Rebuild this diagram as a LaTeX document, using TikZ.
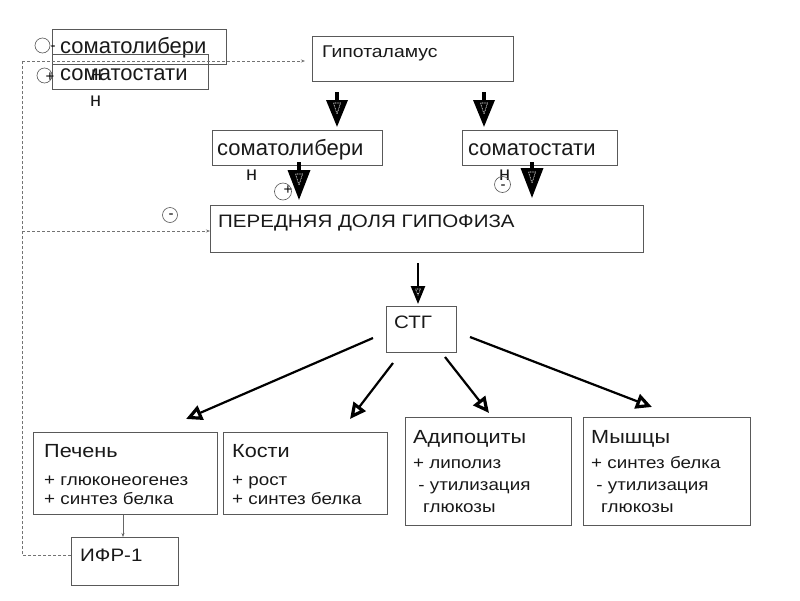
\documentclass[tikz,border=0pt]{standalone}
\usepackage{fontspec}
\setmainfont{Liberation Sans}
\newfontfamily\wide[FakeStretch=1.14]{Liberation Sans}
\usetikzlibrary{arrows.meta}
\tikzset{
  box/.style={draw=black!65, line width=0.7pt, anchor=north west, inner sep=0pt},
  txt/.style={anchor=base west, inner sep=0pt, text=black!90},
  big/.style={txt, font=\fontsize{22}{22}\selectfont},
  ttl/.style={txt, font=\wide\fontsize{18}{18}\selectfont},
  bdy/.style={txt, font=\wide\fontsize{16.5}{16.5}\selectfont},
  fbline/.style={draw=black!55, line width=0.6pt, dash pattern=on 3pt off 2pt},
  fbtip/.style={-{Stealth[length=4pt,width=3pt]}},
  bigarr/.style={line width=3.5pt, -{Triangle[length=27pt,width=21pt]}},
  bigarrb/.style={line width=3.5pt, -{Triangle[length=30pt,width=22pt]}},
  midarr/.style={line width=2.5pt, -{Triangle[length=18pt,width=14pt]}},
  starr/.style={line width=2.2pt, -{Triangle[open,length=16pt,width=15pt,line width=3.2pt]}},
  sgn/.style={draw=black!65, line width=0.6pt, circle, minimum size=15pt, inner sep=0pt},
  sgntxt/.style={inner sep=0pt, font=\fontsize{15}{15}\selectfont},
  inner/.style={draw=white, line width=0.6pt, dash pattern=on 0.8pt off 0.8pt},
}
\newcommand{\innertri}[4]{% x, ytop, half width, height
  \draw[inner] (#1-#3,#2) -- (#1+#3,#2) -- (#1,#2+#4) -- cycle;}
\begin{document}
\begin{tikzpicture}[x=1pt,y=-1pt]
\useasboundingbox[fill=white] (0,0) rectangle (800,600);

% top-left overlapping boxes
\node[box, minimum width=174pt, minimum height=35pt] (tl1) at (52,29) {};
\node[big] (tl1t) at (60,53) {соматолибери};
\node[box, minimum width=156pt, minimum height=35pt] (tl2) at (52,54) {};
\node[big] (tl2t) at (60,80) {соматостати};
\node[big, font=\fontsize{20}{20}\selectfont] (tl1n) at (91,80) {н};
\node[big, font=\fontsize{20}{20}\selectfont] (tl2n) at (90,106) {н};
\node[sgn] (c1) at (42.5,45.5) {};
\node[sgntxt] (c1s) at (53,48) {-};
\node[sgn] (c2) at (44.5,75.5) {};
\node[sgntxt] (c2s) at (50,77) {+};

% hypothalamus
\node[box, minimum width=201pt, minimum height=45pt] (hyp) at (312,36) {};
\node[ttl, font=\wide\fontsize{17}{17}\selectfont] (hypt) at (322,57) {Гипоталамус};

% second row
\node[box, minimum width=170pt, minimum height=35pt] (sl) at (212,130) {};
\node[big] (slt) at (217,155) {соматолибери};
\node[big, font=\fontsize{20}{20}\selectfont] (sln) at (246,180) {н};
\node[box, minimum width=155pt, minimum height=35pt] (ss) at (462,130) {};
\node[big] (sst) at (468,155) {соматостати};
\node[big, font=\fontsize{20}{20}\selectfont] (ssn) at (499,180) {н};
\node[sgn, minimum size=17pt] (c3) at (283,191.5) {};
\node[sgntxt] (c3s) at (288,190) {+};
\node[sgn, minimum size=16pt] (c4) at (502.5,184.5) {};
\node[sgntxt] (c4s) at (503,187) {-};

% pituitary
\node[box, minimum width=433pt, minimum height=47pt] (pit) at (210,205) {};
\node[ttl] (pitt) at (218,227) {ПЕРЕДНЯЯ ДОЛЯ ГИПОФИЗА};
\node[sgn] (c5) at (170,215) {};
\node[sgntxt] (c5s) at (171,216) {-};

% STG
\node[box, minimum width=70pt, minimum height=46pt] (stg) at (386,306) {};
\node[ttl] (stgt) at (394,328) {СТГ};

% bottom boxes
\node[box, minimum width=184pt, minimum height=82pt] (liv) at (33,432) {};
\node[ttl, font=\wide\fontsize{19}{19}\selectfont] (liv1) at (44,457) {Печень};
\node[bdy] (liv2) at (44,485) {+ глюконеогенез};
\node[bdy] (liv3) at (44,504) {+ синтез белка};
\node[box, minimum width=164pt, minimum height=82pt] (bon) at (223,432) {};
\node[ttl, font=\wide\fontsize{19}{19}\selectfont] (bon1) at (232,457) {Кости};
\node[bdy] (bon2) at (232,485) {+ рост};
\node[bdy] (bon3) at (232,504) {+ синтез белка};
\node[box, minimum width=166pt, minimum height=108pt] (adi) at (405,417) {};
\node[ttl, font=\wide\fontsize{19}{19}\selectfont] (adi1) at (413,443) {Адипоциты};
\node[bdy] (adi2) at (413,468) {+ липолиз};
\node[bdy] (adi3) at (413,490) {\ - утилизация};
\node[bdy] (adi4) at (423,512) {глюкозы};
\node[box, minimum width=167pt, minimum height=108pt] (mus) at (583,417) {};
\node[ttl, font=\wide\fontsize{19}{19}\selectfont] (mus1) at (591,443) {Мышцы};
\node[bdy] (mus2) at (591,468) {+ синтез белка};
\node[bdy] (mus3) at (591,490) {\ - утилизация};
\node[bdy] (mus4) at (601,512) {глюкозы};
\node[box, minimum width=107pt, minimum height=48pt] (ifr) at (71,537) {};
\node[ttl] (ifrt) at (80,561) {ИФР-1};

% coordinates for arrows
\coordinate (h1a) at (337,92);  \coordinate (h1b) at (337,127);
\coordinate (h2a) at (484,92);  \coordinate (h2b) at (484,127);
\coordinate (s1a) at (299,162); \coordinate (s1b) at (299,200);
\coordinate (s2a) at (532,162); \coordinate (s2b) at (532,198);
\coordinate (pa) at (418,263);  \coordinate (pb) at (418,304);
\coordinate (g1a) at (373,338); \coordinate (g1b) at (186,419);
\coordinate (g2a) at (393,363); \coordinate (g2b) at (350,419);
\coordinate (g3a) at (445,357); \coordinate (g3b) at (489,413);
\coordinate (g4a) at (470,337); \coordinate (g4b) at (652,407);
\coordinate (fb0) at (22,555);
\coordinate (fb1) at (22,61);
\coordinate (fb2) at (22,231);

\draw[bigarr] (h1a) -- (h1b);
\draw[bigarr] (h2a) -- (h2b);
\draw[bigarrb] (s1a) -- (s1b);
\draw[bigarrb] (s2a) -- (s2b);
\draw[midarr] (pa) -- (pb);
\draw[starr] (g1a) -- (g1b);
\draw[starr] (g2a) -- (g2b);
\draw[starr] (g3a) -- (g3b);
\draw[starr] (g4a) -- (g4b);

% dotted inner marks in the big arrow heads
\innertri{337}{103}{3.5}{11}
\innertri{484}{103}{3.5}{11}
\innertri{299}{174}{3.5}{11}
\innertri{532}{172}{3.5}{11}
\innertri{418}{289}{2.5}{6}

% liver -> IFR
\draw[draw=black!60, line width=0.6pt, -{Stealth[length=4pt,width=3pt]}] (liv.south -| 123,0) -- (ifr.north -| 123,0);

% feedback dashed lines
\draw[fbline] (fb0 -| ifr.west) -- (fb0) -- (fb1);
\draw[fbline, fbtip, shorten >=7pt] (fb1) -- (fb1 -| hyp.west);
\draw[fbline, fbtip] (fb2) -- (fb2 -| pit.west);
\end{tikzpicture}
\end{document}
